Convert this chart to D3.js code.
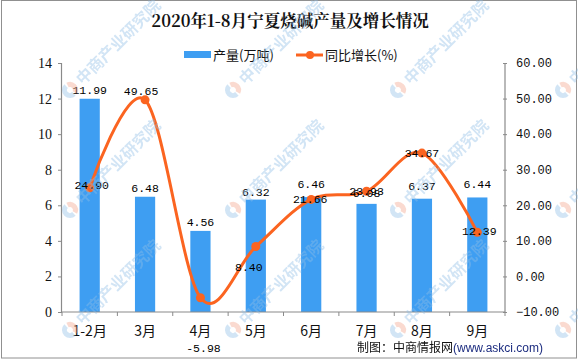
<!DOCTYPE html>
<html>
<head>
<meta charset="utf-8">
<script src="https://cdn.jsdelivr.net/npm/d3@7/dist/d3.min.js"></script>
<style>
html,body{margin:0;padding:0;background:#fff;}
svg{display:block;}
</style>
</head>
<body>
<svg id="chart" width="578" height="360"></svg>
<script>
// ---- data ----
const categories = ["1-2月", "3月", "4月", "5月", "6月", "7月", "8月", "9月"];
const production = [11.99, 6.48, 4.56, 6.32, 6.46, 6.08, 6.37, 6.44];
const growth = [24.90, 49.65, -5.98, 8.40, 21.66, 23.93, 34.67, 12.39];
const leftTicks = [0, 2, 4, 6, 8, 10, 12, 14];
const rightTicks = [-10, 0, 10, 20, 30, 40, 50, 60];

const title = "2020年1-8月宁夏烧碱产量及增长情况";
const seriesNames = ["产量(万吨)", "同比增长(%)"];

// ---- layout ----
const W = 578, H = 360;
const m = {left: 62, right: 73, top: 63, bottom: 48};
const barColor = "#3e9ef2", lineColor = "#fb6420";
// label offsets (layout only)
const barLabelDy = [-9, -9, -9, -8, -13, -11, -13, -13];
const lineLabelDx = [2, -4, 3, -7, -1, 0, 0, 2];
const lineLabelDy = [-3, -9, 50, 20, 0, 0, 0, -1];

const svg = d3.select("#chart");
const x = d3.scaleBand().domain(categories).range([m.left, W - m.right]).padding(0);
const yL = d3.scaleLinear().domain([0, 14]).range([H - m.bottom, m.top]);
const yR = d3.scaleLinear().domain([-10, 60]).range([H - m.bottom, m.top]);

// border
svg.append("rect").attr("x", 1.5).attr("y", 0.5).attr("width", 575).attr("height", 357.5)
  .attr("fill", "none").attr("stroke", "#909090").attr("stroke-width", 1);

// title
svg.append("text").attr("x", 290).attr("y", 27).attr("text-anchor", "middle")
  .attr("font-family", "'Noto Serif CJK SC','Noto Sans CJK SC',serif").attr("font-weight", "bold")
  .attr("font-size", 16.5).attr("fill", "#111").text(title);

// legend
const lg = svg.append("g").attr("font-family", "'Noto Sans CJK SC',sans-serif").attr("font-size", 13).attr("fill", "#111");
lg.append("rect").attr("x", 184).attr("y", 51).attr("width", 27).attr("height", 7).attr("fill", barColor);
lg.append("text").attr("x", 213).attr("y", 59.5).text(seriesNames[0]);
lg.append("line").attr("x1", 296).attr("x2", 323).attr("y1", 55).attr("y2", 55)
  .attr("stroke", lineColor).attr("stroke-width", 3);
lg.append("circle").attr("cx", 310).attr("cy", 55).attr("r", 4).attr("fill", lineColor);
lg.append("text").attr("x", 325).attr("y", 59.5).text(seriesNames[1]);

// bars
const bw = x.bandwidth() * 0.365;
svg.append("g").selectAll("rect").data(production).join("rect")
  .attr("x", (d, i) => x(categories[i]) + x.bandwidth() / 2 - bw / 2)
  .attr("y", d => yL(d))
  .attr("width", bw)
  .attr("height", d => yL(0) - yL(d))
  .attr("fill", barColor);

// axes
const axisColor = "#8a8a8a";
const gL = svg.append("g").attr("transform", `translate(${m.left},0)`)
  .call(d3.axisLeft(yL).tickValues(leftTicks).tickSize(4).tickPadding(6).tickFormat(d3.format("d")));
gL.selectAll("text").attr("font-family", "'Liberation Serif',serif").attr("font-size", 14).attr("fill", "#111");
const gR = svg.append("g").attr("transform", `translate(${W - m.right},0)`)
  .call(d3.axisRight(yR).tickValues(rightTicks).tickSize(2).tickPadding(9).tickFormat(d3.format(".2f")));
gR.selectAll(".tick line").attr("x1", -2);
gR.selectAll("text").attr("font-family", "'Liberation Mono',monospace").attr("font-size", 12).attr("fill", "#111");
const gB = svg.append("g").attr("transform", `translate(0,${H - m.bottom})`)
  .call(d3.axisBottom(x).tickSize(0).tickPadding(14));
gB.selectAll("text").attr("font-family", "'Noto Sans CJK SC',sans-serif").attr("font-size", 14).attr("fill", "#111");
// boundary ticks
gB.selectAll("line.bt").data(d3.range(categories.length + 1)).join("line").attr("class", "bt")
  .attr("x1", i => m.left + i * x.step()).attr("x2", i => m.left + i * x.step())
  .attr("y1", 0).attr("y2", 4).attr("stroke", axisColor);
[gL, gR, gB].forEach(g => {
  g.selectAll(".domain").attr("stroke", axisColor).attr("stroke-width", 1.2);
  g.selectAll(".tick line").attr("stroke", axisColor);
});
gL.select(".domain").attr("d", `M-0.5,${m.top}V${H - m.bottom}`);
gR.select(".domain").attr("d", `M0,${m.top}V${H - m.bottom}`);
gB.select(".domain").attr("d", `M${m.left},0H${W - m.right}`);

// line
const pts = growth.map((v, i) => [x(categories[i]) + x.bandwidth() / 2, yR(v)]);
svg.append("path").datum(pts)
  .attr("d", d3.line().curve(d3.curveCardinal.tension(0)))
  .attr("fill", "none").attr("stroke", lineColor).attr("stroke-width", 3);
svg.append("g").selectAll("circle").data(pts).join("circle")
  .attr("cx", d => d[0]).attr("cy", d => d[1]).attr("r", 4.5).attr("fill", lineColor);

// labels
const lab = svg.append("g").attr("font-family", "'Liberation Mono',monospace").attr("font-size", 11.5)
  .attr("fill", "#000").attr("text-anchor", "middle");
lab.selectAll("text.b").data(production).join("text").attr("class", "b")
  .attr("x", (d, i) => x(categories[i]) + x.bandwidth() / 2)
  .attr("y", (d, i) => yL(d) + barLabelDy[i] + 4)
  .text(d => d.toFixed(2));
lab.selectAll("text.l").data(growth).join("text").attr("class", "l")
  .attr("x", (d, i) => pts[i][0] + lineLabelDx[i])
  .attr("y", (d, i) => pts[i][1] + lineLabelDy[i] + 4)
  .text(d => d.toFixed(2));

// watermark
const wm = svg.append("g").attr("opacity", 0.4).style("pointer-events", "none");
const gxs = [70, 233, 398, 563], gys = [90, 210, 330];
gxs.forEach(cx => gys.forEach(cy => {
  const g = wm.append("g").attr("transform", `translate(${cx},${cy}) rotate(-45)`);
  const arc = d3.arc().innerRadius(3).outerRadius(8);
  g.append("path").attr("d", arc({startAngle: Math.PI * 0.1, endAngle: Math.PI * 0.9})).attr("fill", "#f3a48a");
  g.append("path").attr("d", arc({startAngle: Math.PI * 1.0, endAngle: Math.PI * 2.0})).attr("fill", "#8fbde6");
  g.append("text").attr("x", 12).attr("y", 6).attr("font-family", "'Noto Sans CJK SC',sans-serif")
    .attr("font-weight", "bold").attr("font-size", 16).attr("fill", "#8fbde6").text("中商产业研究院");
}));

// footer
const ft = svg.append("text").attr("x", 357).attr("y", 352).attr("font-size", 12);
ft.append("tspan").attr("font-family", "'Noto Sans CJK SC',sans-serif").attr("fill", "#111").text("制图：中商情报网");
ft.append("tspan").attr("font-family", "'Liberation Sans',Arial,sans-serif").attr("fill", "#1d2d80").text("(www.askci.com)");
</script>
</body>
</html>
